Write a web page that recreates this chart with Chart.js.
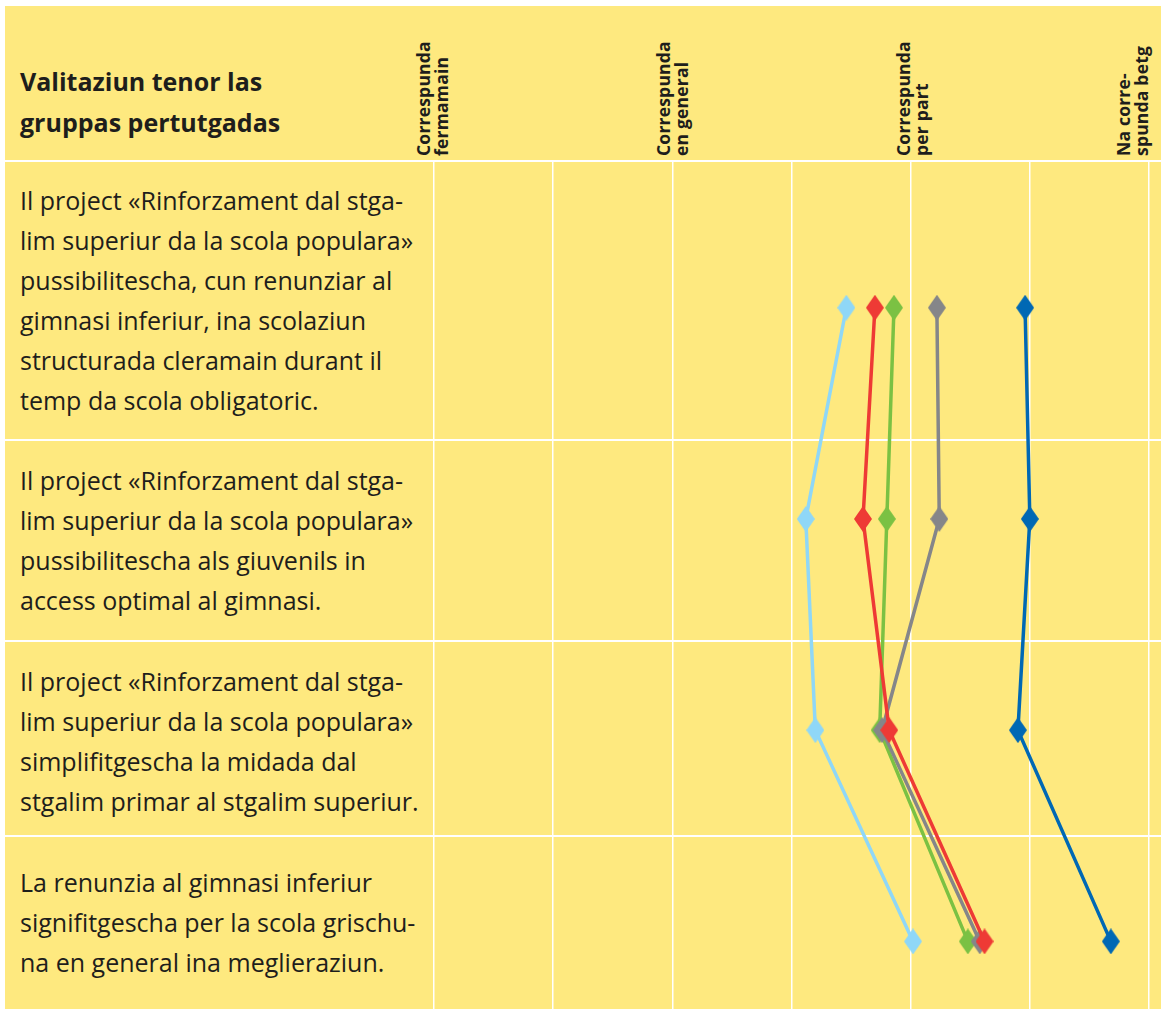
<!DOCTYPE html>
<html>
<head>
<meta charset="utf-8">
<script src="https://cdn.jsdelivr.net/npm/chart.js@4"></script>
<style>
  html, body { margin: 0; padding: 0; background: #fff; }
  body { width: 1161px; height: 1009px; position: relative; overflow: hidden;
         font-family: "Open Sans", "Noto Sans", sans-serif; color: #1e1e1c; }
  #panel { position: absolute; left: 5px; top: 6px; right: 0; bottom: 0; background: #fee97f; }
  .rule { position: absolute; left: 5px; right: 0; height: 1.5px; background: #fff; }
  .title { position: absolute; left: 20px; top: 61px; font-weight: 700; font-size: 25px; line-height: 41px; }
  .stmt { position: absolute; left: 20px; font-size: 25px; line-height: 40px; white-space: nowrap; }
  .col { position: absolute; bottom: 853px; height: 140px; width: 40px;
         writing-mode: vertical-rl; transform: rotate(180deg);
         font-weight: 700; font-size: 17.5px; line-height: 18px; letter-spacing: 0.2px; }
  #wrap { position: absolute; left: 405px; top: 162px; width: 756px; height: 847px; }
</style>
</head>
<body>
<div id="panel"></div>
<div class="rule" style="top:160px"></div>
<div class="rule" style="top:439px"></div>
<div class="rule" style="top:640px"></div>
<div class="rule" style="top:835px"></div>

<div class="title">Valitaziun tenor las<br>gruppas pertutgadas</div>
<div id="labels"></div>
<div id="stmts"></div>

<div id="wrap"><canvas id="chart"></canvas></div>

<script>
// rating scale (1 = best, 4 = worst), header labels
const ratingLabels = ['Correspunda\nfermamain', 'Correspunda\nen general', 'Correspunda\nper part', 'Na corre-\nspunda betg'];

// statements (rows), top to bottom
const statements = [
  'Il project «Rinforzament dal stga-\nlim superiur da la scola populara»\npussibilitescha, cun renunziar al\ngimnasi inferiur, ina scolaziun\nstructurada cleramain durant il\ntemp da scola obligatoric.',
  'Il project «Rinforzament dal stga-\nlim superiur da la scola populara»\npussibilitescha als giuvenils in\naccess optimal al gimnasi.',
  'Il project «Rinforzament dal stga-\nlim superiur da la scola populara»\nsimplifitgescha la midada dal\nstgalim primar al stgalim superiur.',
  'La renunzia al gimnasi inferiur\nsignifitgescha per la scola grischu-\nna en general ina meglieraziun.'
];
const rowIndex = [1, 2, 3, 4];

// average rating per group
const groupRed = [2.85, 2.80, 2.91, 3.31];
const groupGrey = [3.11, 3.12, 2.88, 3.29];
const groupGreen = [2.93, 2.90, 2.87, 3.24];
const groupLightBlue = [2.73, 2.56, 2.60, 3.01];
const groupBlue = [3.48, 3.50, 3.45, 3.84];

// header labels + statement texts as html
const labelX = [414, 654, 894, 1114];
const labelsEl = document.getElementById('labels');
ratingLabels.forEach((t, i) => {
  const d = document.createElement('div');
  d.className = 'col';
  d.style.left = labelX[i] + 'px';
  d.innerHTML = t.replace('\n', '<br>');
  labelsEl.appendChild(d);
});
const stmtTop = [180, 460, 661, 862];
const stmtsEl = document.getElementById('stmts');
statements.forEach((t, i) => {
  const d = document.createElement('div');
  d.className = 'stmt';
  d.style.top = stmtTop[i] + 'px';
  d.innerHTML = t.split('\n').join('<br>');
  stmtsEl.appendChild(d);
});

// tall diamond marker
function diamond(color) {
  const c = document.createElement('canvas');
  c.width = 18; c.height = 26;
  const g = c.getContext('2d');
  g.fillStyle = color;
  g.beginPath();
  g.moveTo(9, 0); g.lineTo(18, 13); g.lineTo(9, 26); g.lineTo(0, 13);
  g.closePath();
  g.fill();
  return c;
}

function series(label, values, color) {
  return {
    label: label,
    data: values.map((v, i) => ({ x: v, y: rowIndex[i] })),
    showLine: true,
    borderColor: color,
    backgroundColor: color,
    borderWidth: 3.5,
    pointStyle: diamond(color),
    pointRadius: 13,
    tension: 0
  };
}

new Chart(document.getElementById('chart'), {
  type: 'scatter',
  data: {
    datasets: [
      series('Gruppa 1', groupRed, '#ee3a35'),
      series('Gruppa 2', groupGrey, '#858689'),
      series('Gruppa 3', groupGreen, '#7bc143'),
      series('Gruppa 4', groupLightBlue, '#8fd7f7'),
      series('Gruppa 5', groupBlue, '#0068b4')
    ]
  },
  options: {
    responsive: true,
    maintainAspectRatio: false,
    animation: false,
    layout: { autoPadding: false, padding: { left: 29, right: 12, top: 0, bottom: 0 } },
    scales: {
      x: {
        type: 'linear',
        min: 1,
        max: 4,
        ticks: { display: false, stepSize: 0.5 },
        grid: { color: '#ffffff', lineWidth: 1.5, drawTicks: false },
        border: { display: false }
      },
      y: {
        type: 'linear',
        min: 0.31,
        max: 4.32,
        reverse: true,
        display: false
      }
    },
    plugins: {
      legend: { display: false },
      tooltip: { enabled: false }
    }
  }
});
</script>
</body>
</html>
